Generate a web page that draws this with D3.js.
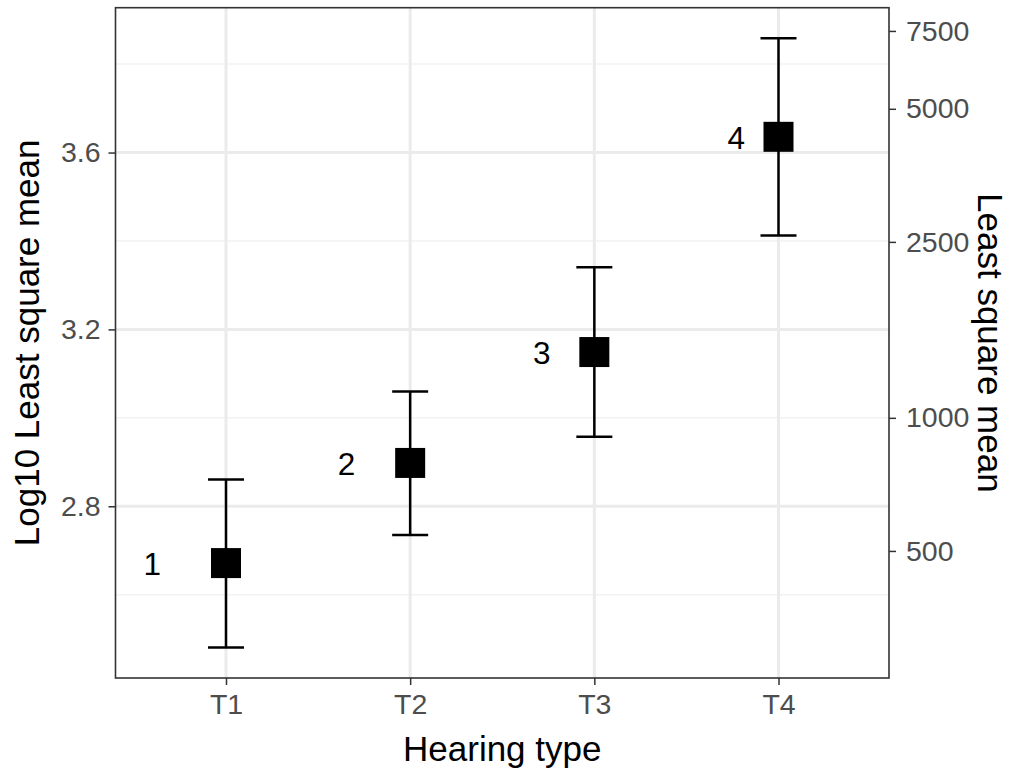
<!DOCTYPE html>
<html>
<head>
<meta charset="utf-8">
<title>Least square mean by hearing type</title>
<script src="https://d3js.org/d3.v7.min.js"></script>
<style>
  body { margin: 0; background: #fff; }
  svg text { font-family: "Liberation Sans", Arial, Helvetica, sans-serif; }
  .tick text { fill: #4d4d4d; font-size: 28.5px; }
  .tick line { stroke: #333; stroke-width: 1.5px; }
  .domain { display: none; }
</style>
</head>
<body>
<svg id="chart"></svg>
<script>
// values (log10 scale)
const types = ["T1", "T2", "T3", "T4"];
const lsMean = [2.6715, 2.898, 3.1488, 3.6356];
const lower = [2.4805, 2.7349, 2.9573, 3.4125];
const upper = [2.8604, 3.0596, 3.3404, 3.8587];
const pointLabels = ["1", "2", "3", "4"];
const labelPos = [0.6, 1.655, 2.715, 3.77];   // x position of the number labels, in category units
const leftTicks = [2.8, 3.2, 3.6];
const minorTicks = [2.6, 3.0, 3.4, 3.8];
const rightTicks = [500, 1000, 2500, 5000, 7500];

const W = 1011, H = 773;
const margin = { top: 7.7, right: 122, bottom: 95, left: 115.5 };
const width = W - margin.left - margin.right,
      height = H - margin.top - margin.bottom;

const svg = d3.select("#chart").attr("width", W).attr("height", H);
const g = svg.append("g").attr("transform", `translate(${margin.left},${margin.top})`);

// discrete x: categories at 1..n, expanded by 0.6 each side (ggplot default)
const x = d3.scaleLinear().domain([0.4, types.length + 0.6]).range([0, width]);
const lo = d3.min(lower), hi = d3.max(upper), pad = (hi - lo) * 0.05;
const y = d3.scaleLinear().domain([lo - pad, hi + pad]).range([height, 0]);

// grid
g.selectAll(".minor").data(minorTicks).enter().append("line")
  .attr("x1", 0).attr("x2", width)
  .attr("y1", d => y(d)).attr("y2", d => y(d))
  .attr("stroke", "#f2f2f2").attr("stroke-width", 1.5);
g.selectAll(".major").data(leftTicks).enter().append("line")
  .attr("x1", 0).attr("x2", width)
  .attr("y1", d => y(d)).attr("y2", d => y(d))
  .attr("stroke", "#ebebeb").attr("stroke-width", 3);
g.selectAll(".vmajor").data(types).enter().append("line")
  .attr("x1", (d, i) => x(i + 1)).attr("x2", (d, i) => x(i + 1))
  .attr("y1", 0).attr("y2", height)
  .attr("stroke", "#ebebeb").attr("stroke-width", 3);

// error bars
const capHalf = 18;
const bars = g.selectAll(".err").data(types).enter().append("g");
bars.append("line")
  .attr("x1", (d, i) => x(i + 1)).attr("x2", (d, i) => x(i + 1))
  .attr("y1", (d, i) => y(lower[i])).attr("y2", (d, i) => y(upper[i]));
bars.append("line")
  .attr("x1", (d, i) => x(i + 1) - capHalf).attr("x2", (d, i) => x(i + 1) + capHalf)
  .attr("y1", (d, i) => y(upper[i])).attr("y2", (d, i) => y(upper[i]));
bars.append("line")
  .attr("x1", (d, i) => x(i + 1) - capHalf).attr("x2", (d, i) => x(i + 1) + capHalf)
  .attr("y1", (d, i) => y(lower[i])).attr("y2", (d, i) => y(lower[i]));
bars.selectAll("line").attr("stroke", "#000").attr("stroke-width", 2.5);

// square points
const sq = 30;
g.selectAll(".pt").data(lsMean).enter().append("rect")
  .attr("x", (d, i) => x(i + 1) - sq / 2)
  .attr("y", d => y(d) - sq / 2)
  .attr("width", sq).attr("height", sq)
  .attr("fill", "#000");

// number labels
g.selectAll(".lab").data(pointLabels).enter().append("text")
  .attr("x", (d, i) => x(labelPos[i]))
  .attr("y", (d, i) => y(lsMean[i]))
  .attr("dy", "0.38em")
  .attr("text-anchor", "middle")
  .style("font-size", "31.5px")
  .attr("fill", "#000")
  .text(d => d);

// panel border
g.append("rect").attr("width", width).attr("height", height)
  .attr("fill", "none").attr("stroke", "#333").attr("stroke-width", 1.6);

// axes
g.append("g").attr("transform", `translate(0,${height})`)
  .call(d3.axisBottom(x).tickValues(types.map((d, i) => i + 1))
    .tickFormat((d, i) => types[i]).tickSize(7).tickPadding(9));

g.append("g")
  .call(d3.axisLeft(y).tickValues(leftTicks).tickFormat(d3.format(".1f"))
    .tickSize(7).tickPadding(8));

g.append("g").attr("transform", `translate(${width},0)`)
  .call(d3.axisRight(y).tickValues(rightTicks.map(v => Math.log10(v)))
    .tickFormat((d, i) => rightTicks[i]).tickSize(7).tickPadding(10));

// axis titles
svg.append("text")
  .attr("x", margin.left + width / 2).attr("y", 761)
  .attr("text-anchor", "middle").style("font-size", "35px").attr("fill", "#000")
  .text("Hearing type");

svg.append("text")
  .attr("transform", `translate(39,${margin.top + height / 2}) rotate(-90)`)
  .attr("text-anchor", "middle").style("font-size", "35px").attr("fill", "#000")
  .text("Log10 Least square mean");

svg.append("text")
  .attr("transform", `translate(978,${margin.top + height / 2}) rotate(90)`)
  .attr("text-anchor", "middle").style("font-size", "35px").attr("fill", "#000")
  .text("Least square mean");
</script>
</body>
</html>
